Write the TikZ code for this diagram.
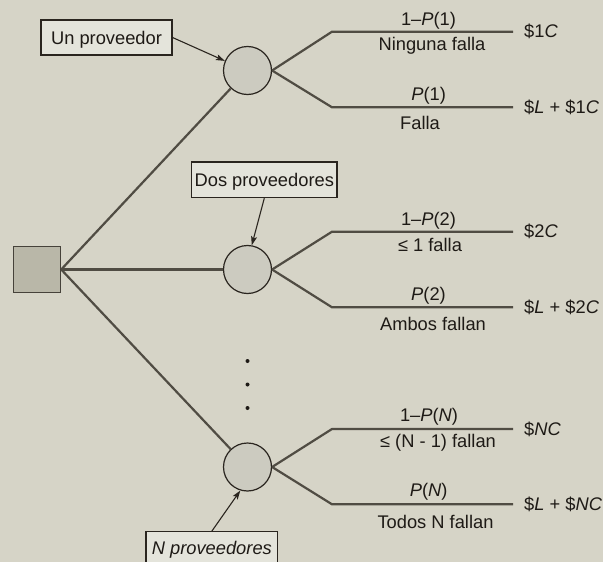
\documentclass[tikz,border=0pt]{standalone}
\usepackage{fontspec}
\setmainfont{Liberation Sans}
\usetikzlibrary{arrows.meta}
\definecolor{bgc}{RGB}{214,212,199}
\definecolor{boxf}{RGB}{228,228,219}
\definecolor{sqf}{RGB}{185,183,168}
\definecolor{sqd}{RGB}{70,66,58}
\definecolor{circf}{RGB}{204,203,192}
\definecolor{edge}{RGB}{42,37,31}
\definecolor{linec}{RGB}{80,76,67}
\definecolor{txt}{RGB}{30,26,22}
\begin{document}
\begin{tikzpicture}[x=1pt,y=-1pt,
  every node/.style={font=\fontsize{18.3}{22}\selectfont, text=txt},
  lab/.style={anchor=base, inner sep=0pt},
  outc/.style={anchor=base west, inner sep=0pt},
  chance/.style={circle, draw=edge, fill=circf, line width=1.2pt, minimum size=48pt, inner sep=0pt},
  dec/.style={rectangle, draw=sqd, fill=sqf, line width=1.4pt, minimum width=47pt, minimum height=46pt, inner sep=0pt},
  tag/.style={rectangle, draw=edge, fill=boxf, line width=1.1pt, inner sep=0pt, text height=13.1pt, text depth=0pt},
  branch/.style={draw=linec, line width=2.2pt},
  arr/.style={draw=edge, line width=1.1pt, -{Stealth[length=9pt,width=6pt,inset=2pt]}},
]
\useasboundingbox (0,0) rectangle (603,562);
\fill[bgc] (0,0) rectangle (603,562);

% decision and chance nodes
\node[dec] (d) at (37,269.5) {};
\node[chance] (c1) at (247.5,70.5) {};
\node[chance] (c2) at (247.5,269.5) {};
\node[chance] (c3) at (247.5,467) {};

% main branches
\draw[branch] (d.east) -- (c1);
\draw[branch] (d.east) -- (c2);
\draw[branch] (d.east) -- (c3);

% outcome branches
\coordinate (k1u) at (332,31.7);  \coordinate (e1u) at (513,31.7);
\coordinate (k1d) at (332,107.3); \coordinate (e1d) at (513,107.3);
\coordinate (k2u) at (332,231.7); \coordinate (e2u) at (513,231.7);
\coordinate (k2d) at (332,307.3); \coordinate (e2d) at (513,307.3);
\coordinate (k3u) at (332,429);   \coordinate (e3u) at (513,429);
\coordinate (k3d) at (332,504.3); \coordinate (e3d) at (513,504.3);
\draw[branch] (c1.east) -- (k1u) -- (e1u);
\draw[branch] (c1.east) -- (k1d) -- (e1d);
\draw[branch] (c2.east) -- (k2u) -- (e2u);
\draw[branch] (c2.east) -- (k2d) -- (e2d);
\draw[branch] (c3.east) -- (k3u) -- (e3u);
\draw[branch] (c3.east) -- (k3d) -- (e3d);

% probability / event labels
\node[lab] (p1a) at (428.5,25.5) {1–\textit{P}(1)};
\node[lab] (p1b) at (432,50) {Ninguna falla};
\node[lab] (p1c) at (428.7,100.7) {\textit{P}(1)};
\node[lab] (p1d) at (420,129) {Falla};
\node[lab] (p2a) at (428.5,225.7) {1–\textit{P}(2)};
\node[lab] (p2b) at (430,251.5) {≤ 1 falla};
\node[lab] (p2c) at (428.5,300.7) {\textit{P}(2)};
\node[lab] (p2d) at (433,330) {Ambos fallan};
\node[lab] (p3a) at (429,421.5) {1–\textit{P}(\textit{N})};
\node[lab] (p3b) at (438,447.7) {≤ (N - 1) fallan};
\node[lab] (p3c) at (428.7,496) {\textit{P}(\textit{N})};
\node[lab] (p3d) at (435.5,528) {Todos N fallan};

% outcomes
\node[outc] (o1a) at (524,37.7) {\$1\textit{C}};
\node[outc] (o1b) at (524,113.3) {\$\textit{L} + \$1\textit{C}};
\node[outc] (o2a) at (524,237.7) {\$2\textit{C}};
\node[outc] (o2b) at (524,313.3) {\$\textit{L} + \$2\textit{C}};
\node[outc] (o3a) at (524,435) {\$\textit{NC}};
\node[outc] (o3b) at (524,510.3) {\$\textit{L} + \$\textit{NC}};

% dots
\fill[txt] (247.5,361) circle (2pt);
\fill[txt] (247.5,384.5) circle (2pt);
\fill[txt] (247.5,408) circle (2pt);

% tags
\node[tag, minimum width=131pt, minimum height=35pt] (b1) at (106.5,37.5) {Un proveedor};
\node[tag, minimum width=145.3pt, minimum height=35.7pt] (b2) at (264.3,179.8) {Dos proveedores};
\node[tag, minimum width=131.7pt, minimum height=31.8pt] (b3) at (211.85,547.6) {\textit{N proveedores}};

\draw[arr] (b1.east) -- (c1.157);
\draw[arr] (b2.south) -- (c2.80);
\draw[arr] (b3.north) -- (c3.253);
\end{tikzpicture}
\end{document}
